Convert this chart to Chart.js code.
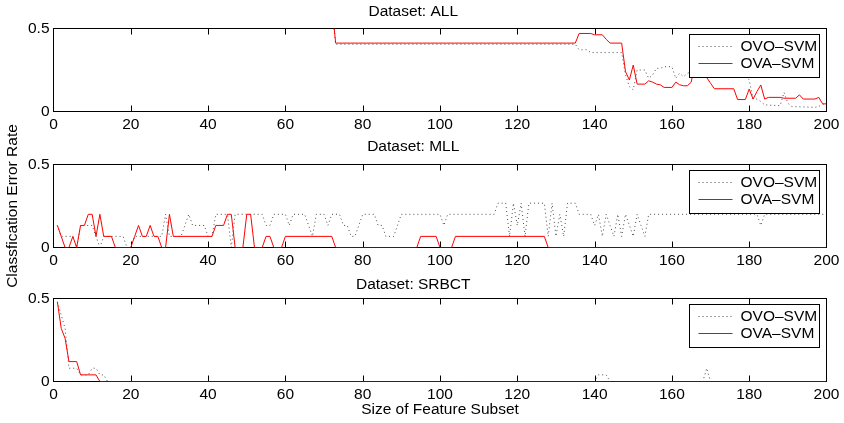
<!DOCTYPE html>
<html>
<head>
<meta charset="utf-8">
<script src="https://cdn.jsdelivr.net/npm/chart.js@4.4.1/dist/chart.umd.min.js"></script>
<style>
  html, body { margin: 0; padding: 0; background: #fff; }
  #wrap { position: relative; width: 844px; height: 423px; overflow: hidden; }
  canvas { position: absolute; left: 0; }
</style>
</head>
<body>
<div id="wrap">
  <canvas id="allChart" width="844" height="140" style="top:0px"></canvas>
  <canvas id="mllChart" width="844" height="175" style="top:120px"></canvas>
  <canvas id="srbctChart" width="844" height="158" style="top:265px"></canvas>
</div>
<script>
// legend labels
const seriesNames = ["OVO\u2013SVM", "OVA\u2013SVM"];
const seriesColors = ["rgba(0,0,0,0.7)", "#ff0000"];
const xTicks = [0, 20, 40, 60, 80, 100, 120, 140, 160, 180, 200];

// Dataset: ALL
const allOvoX = [1, 72, 73, 135, 136, 138, 139, 147, 148, 149, 150, 151, 153, 154, 155, 156, 157, 158, 160, 161, 162, 163, 164, 165, 170, 175, 179, 180, 181, 182, 183, 184, 188, 189, 190, 191, 197, 198, 199, 200];
const allOvoY = [0.65, 0.65, 0.405, 0.405, 0.372, 0.372, 0.355, 0.355, 0.22, 0.15, 0.13, 0.25, 0.25, 0.2, 0.22, 0.26, 0.26, 0.27, 0.27, 0.2, 0.23, 0.21, 0.23, 0.24, 0.26, 0.25, 0.22, 0.19, 0.075, 0.075, 0.06, 0.04, 0.035, 0.115, 0.05, 0.03, 0.025, 0.03, 0.045, 0.035];
const allOvaX = [1, 72, 73, 135, 136, 139, 140, 142, 143, 144, 147, 148, 149, 150, 151, 153, 154, 155, 156, 157, 158, 160, 161, 162, 163, 164, 165, 166, 167, 168, 169, 170, 171, 176, 177, 179, 180, 181, 182, 183, 184, 185, 188, 189, 192, 193, 194, 197, 198, 199, 200];
const allOvaY = [0.65, 0.65, 0.412, 0.412, 0.47, 0.47, 0.462, 0.462, 0.435, 0.412, 0.412, 0.24, 0.19, 0.28, 0.165, 0.165, 0.185, 0.177, 0.165, 0.161, 0.145, 0.145, 0.177, 0.161, 0.155, 0.155, 0.177, 0.3, 0.28, 0.25, 0.205, 0.17, 0.137, 0.137, 0.072, 0.072, 0.135, 0.075, 0.12, 0.16, 0.075, 0.085, 0.085, 0.08, 0.08, 0.1, 0.075, 0.075, 0.085, 0.046, 0.046];

// Dataset: MLL
const mllOvoX = [1, 2, 5, 6, 7, 10, 11, 12, 13, 18, 19, 20, 21, 28, 29, 30, 33, 34, 35, 36, 39, 40, 41, 42, 45, 46, 47, 54, 55, 56, 57, 60, 61, 62, 65, 66, 67, 68, 70, 71, 72, 74, 75, 76, 77, 78, 79, 80, 83, 84, 85, 86, 88, 89, 90, 100, 101, 102, 114, 115, 117, 118, 119, 120, 121, 122, 123, 127, 128, 129, 130, 131, 132, 133, 135, 136, 139, 140, 141, 142, 143, 144, 145, 146, 147, 148, 149, 150, 151, 152, 153, 154, 182, 183, 184, 200];
const mllOvoY = [0.133, 0.067, 0.067, 0, 0.133, 0.133, 0.067, 0, 0.067, 0.067, 0, 0, 0.067, 0.067, 0.2, 0.067, 0.067, 0.133, 0.2, 0.133, 0.133, 0.067, 0.067, 0.2, 0.2, 0, 0.2, 0.2, 0.133, 0.133, 0.2, 0.2, 0.133, 0.2, 0.2, 0.133, 0.067, 0.2, 0.2, 0.133, 0.2, 0.2, 0.133, 0.133, 0.067, 0.067, 0.133, 0.2, 0.2, 0.133, 0.133, 0.067, 0.067, 0.133, 0.2, 0.2, 0.133, 0.2, 0.2, 0.267, 0.267, 0.067, 0.267, 0.133, 0.267, 0.067, 0.267, 0.267, 0.067, 0.267, 0.067, 0.2, 0.067, 0.267, 0.267, 0.2, 0.2, 0.133, 0.2, 0.067, 0.2, 0.133, 0.067, 0.2, 0.067, 0.2, 0.133, 0.067, 0.2, 0.133, 0.067, 0.2, 0.2, 0.133, 0.2, 0.2];
const mllOvaX = [1, 2, 3, 4, 5, 6, 7, 8, 9, 10, 11, 12, 13, 15, 16, 20, 21, 22, 23, 24, 25, 26, 27, 28, 29, 30, 31, 41, 42, 44, 45, 46, 47, 49, 50, 51, 52, 54, 55, 56, 57, 59, 60, 72, 73, 94, 95, 99, 100, 103, 104, 127, 128, 200];
const mllOvaY = [0.133, 0.067, 0, 0, 0.067, 0, 0.133, 0.133, 0.2, 0.2, 0.067, 0.2, 0.067, 0.067, 0, 0, 0.067, 0.133, 0.067, 0.067, 0.133, 0.067, 0.067, 0, 0, 0.2, 0.067, 0.067, 0.133, 0.133, 0.2, 0.2, 0, 0, 0.2, 0.2, 0, 0, 0.067, 0.067, 0, 0, 0.067, 0.067, 0, 0, 0.067, 0.067, 0, 0, 0.067, 0.067, 0, 0];

// Dataset: SRBCT
const srbctOvoX = [1, 2, 3, 4, 6, 7, 9, 10, 11, 12, 13, 14, 140, 141, 143, 144, 168, 169, 170, 200];
const srbctOvoY = [0.48, 0.4, 0.32, 0.08, 0.08, 0.04, 0.04, 0.08, 0.08, 0.04, 0.04, 0, 0, 0.04, 0.04, 0, 0, 0.08, 0, 0];
const srbctOvaX = [1, 2, 3, 4, 6, 7, 11, 12, 200];
const srbctOvaY = [0.48, 0.32, 0.26, 0.12, 0.12, 0.04, 0.04, 0, 0];

Chart.defaults.font.family = '"Liberation Sans", Arial, Helvetica, sans-serif';
Chart.defaults.font.size = 15.5;
Chart.defaults.color = '#000';

function toPoints(xs, ys) {
  return xs.map((x, i) => ({ x: x, y: ys[i] }));
}

// black box round the plot with inward ticks (matlab style)
const frame = {
  id: 'frame',
  beforeDatasetsDraw(chart) {
    const { ctx, chartArea: a } = chart;
    const xs = chart.scales.x;
    ctx.save();
    ctx.strokeStyle = '#000';
    ctx.lineWidth = 1;
    ctx.strokeRect(a.left, a.top, a.right - a.left, a.bottom - a.top);
    ctx.beginPath();
    xTicks.slice(1, -1).forEach(v => {
      const px = Math.round(xs.getPixelForValue(v)) + 0.5;
      ctx.moveTo(px, a.bottom);
      ctx.lineTo(px, a.bottom - 6);
      ctx.moveTo(px, a.top);
      ctx.lineTo(px, a.top + 6);
    });
    ctx.stroke();
    ctx.restore();
  }
};

// legend in a white box, top right inside the plot
const boxLegend = {
  id: 'boxLegend',
  afterDatasetsDraw(chart) {
    const { ctx, chartArea: a } = chart;
    const w = 130, h = 43;
    const left = a.right - 7 - w;
    const top = a.top + 6;
    ctx.save();
    ctx.fillStyle = '#fff';
    ctx.fillRect(left, top, w, h);
    ctx.strokeStyle = '#000';
    ctx.lineWidth = 1;
    ctx.strokeRect(left, top, w, h);
    ctx.font = '15.5px "Liberation Sans", Arial, sans-serif';
    ctx.textBaseline = 'middle';
    chart.data.datasets.forEach((ds, i) => {
      const y = top + 12 + i * 17;
      ctx.beginPath();
      ctx.setLineDash(i === 0 ? [1, 3] : []);
      ctx.strokeStyle = seriesColors[i];
      ctx.lineWidth = 1;
      ctx.moveTo(left + 9, y);
      ctx.lineTo(left + 43, y);
      ctx.stroke();
      ctx.setLineDash([]);
      ctx.fillStyle = '#000';
      ctx.fillText(ds.label, left + 51, y + 0.5);
    });
    ctx.restore();
  }
};

function makeChart(id, cfg) {
  const el = document.getElementById(id);
  return new Chart(el.getContext('2d'), {
    type: 'line',
    data: {
      datasets: [{
        label: seriesNames[0],
        data: toPoints(cfg.ovoX, cfg.ovoY),
        borderColor: seriesColors[0],
        borderWidth: 1,
        borderDash: [1, 3],
        pointRadius: 0,
        tension: 0,
        order: 1
      }, {
        label: seriesNames[1],
        data: toPoints(cfg.ovaX, cfg.ovaY),
        borderColor: seriesColors[1],
        borderWidth: 1,
        pointRadius: 0,
        tension: 0,
        order: 0
      }]
    },
    options: {
      responsive: false,
      animation: false,
      devicePixelRatio: 1,
      events: [],
      layout: { padding: { left: 0, right: 17.5, top: cfg.padTop, bottom: 0 } },
      plugins: {
        legend: { display: false },
        tooltip: { enabled: false },
        title: {
          display: true,
          text: cfg.title,
          font: { size: 15.5, weight: 'normal' },
          color: '#000',
          padding: { top: 2, bottom: cfg.titleGap }
        }
      },
      scales: {
        x: {
          type: 'linear',
          min: 0,
          max: 200,
          grid: { display: false, drawTicks: false },
          border: { display: false },
          ticks: { stepSize: 20, padding: 4, maxRotation: 0, autoSkip: false, color: '#000' },
          title: {
            display: !!cfg.xTitle,
            text: cfg.xTitle || '',
            color: '#000',
            font: { size: 15.5 },
            padding: { top: 0, bottom: 3.7 }
          },
          afterFit(scale) { scale.height = cfg.xHeight; }
        },
        y: {
          min: 0,
          max: 0.5,
          grid: { display: false, drawTicks: false },
          border: { display: false },
          ticks: { stepSize: 0.5, padding: 4, color: '#000' },
          title: {
            display: !!cfg.yTitle,
            text: cfg.yTitle || '',
            color: '#000',
            font: { size: 15.5 },
            padding: { top: 3, bottom: 0 }
          },
          afterFit(scale) { scale.width = 53.5; }
        }
      }
    },
    plugins: [frame, boxLegend]
  });
}

makeChart('allChart', {
  title: 'Dataset: ALL', padTop: 0, titleGap: 7.9, xHeight: 28.5,
  ovoX: allOvoX, ovoY: allOvoY, ovaX: allOvaX, ovaY: allOvaY
});

makeChart('mllChart', {
  title: 'Dataset: MLL', padTop: 15, titleGap: 8.9, xHeight: 47.5,
  yTitle: 'Classfication Error Rate',
  ovoX: mllOvoX, ovoY: mllOvoY, ovaX: mllOvaX, ovaY: mllOvaY
});

makeChart('srbctChart', {
  title: 'Dataset: SRBCT', padTop: 8, titleGap: 4.9, xHeight: 41.5,
  xTitle: 'Size of Feature Subset',
  ovoX: srbctOvoX, ovoY: srbctOvoY, ovaX: srbctOvaX, ovaY: srbctOvaY
});
</script>
</body>
</html>
